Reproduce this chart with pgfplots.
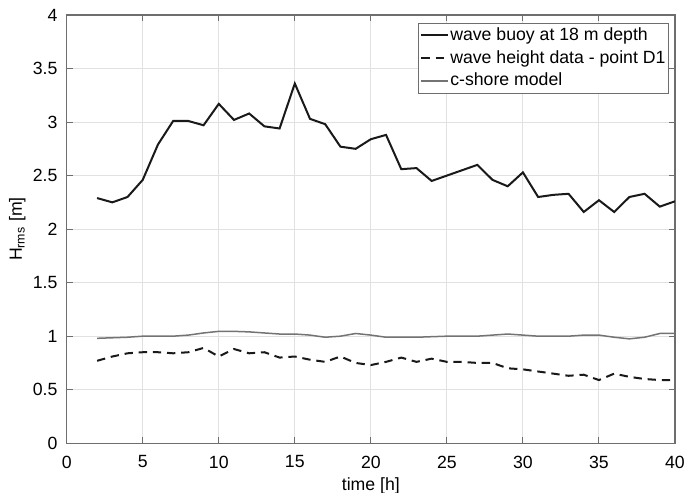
\documentclass[border=0pt]{standalone}
\usepackage{fontspec}
\setmainfont{Liberation Sans}
\usepackage{pgfplots}
\pgfplotsset{compat=1.18}

\definecolor{axgray}{RGB}{110,110,110}
\definecolor{gridgray}{RGB}{225,225,225}
\definecolor{modelgray}{RGB}{115,115,115}
\definecolor{lineblk}{RGB}{25,25,25}

\pgfplotstableread{
t buoy d1 model
2 2.29 0.77 0.98
3 2.25 0.81 0.985
4 2.30 0.84 0.99
5 2.46 0.85 1.00
6 2.79 0.85 1.00
7 3.01 0.84 1.00
8 3.01 0.85 1.01
9 2.97 0.89 1.03
10 3.17 0.81 1.045
11 3.02 0.88 1.045
12 3.08 0.84 1.04
13 2.96 0.85 1.03
14 2.94 0.80 1.02
15 3.36 0.81 1.02
16 3.03 0.78 1.01
17 2.98 0.76 0.99
18 2.77 0.81 1.00
19 2.75 0.75 1.025
20 2.84 0.73 1.01
21 2.88 0.76 0.99
22 2.56 0.80 0.99
23 2.57 0.76 0.99
24 2.45 0.79 0.995
25 2.50 0.76 1.00
26 2.55 0.76 1.00
27 2.60 0.75 1.00
28 2.46 0.75 1.01
29 2.40 0.70 1.02
30 2.53 0.69 1.01
31 2.30 0.67 1.00
32 2.32 0.65 1.00
33 2.33 0.63 1.00
34 2.16 0.64 1.01
35 2.27 0.59 1.01
36 2.16 0.65 0.99
37 2.30 0.62 0.975
38 2.33 0.60 0.99
39 2.21 0.59 1.025
40 2.26 0.59 1.025
}\hdata

\begin{document}
\begin{tikzpicture}
\begin{axis}[
  scale only axis,
  width=364.8pt,height=256.8pt,
  xmin=0,xmax=40,ymin=0,ymax=4,
  xtick={0,5,...,40},
  ytick={0,0.5,...,4},
  yticklabels={0,0.5,1,1.5,2,2.5,3,3.5,4},
  /pgf/number format/assume math mode=true,
  tick label style={font=\fontsize{10.6}{12.5}\selectfont},
  label style={font=\fontsize{10.6}{12.5}\selectfont},
  xticklabel style={yshift=-4pt},
  yticklabel style={xshift=-2pt},
  xlabel={time [h]},
  ylabel={H\textsubscript{rms} [m]},
  xlabel style={yshift=1.5pt},
  ylabel style={yshift=-2.5pt},
  grid=major,
  major grid style={gridgray,line width=0.6pt},
  axis line style={axgray,line width=0.7pt},
  tick style={axgray,line width=0.6pt},
  tick align=inside,
  major tick length=3.5pt,
  xtick pos=both,ytick pos=both,
  legend style={at={(0.99,0.982)},anchor=north east,
    font=\fontsize{10.6}{12.5}\selectfont,draw=axgray,line width=0.5pt,
    inner sep=1pt,row sep=0.8pt,
    nodes={inner xsep=0.8pt,inner ysep=1.8pt},
    cells={anchor=west}},
  legend cell align=left,
  legend image post style={line width=1.2pt},
  legend image code/.code={\draw[#1] (0cm,0cm) -- (0.56cm,0cm);},
]
\addplot[lineblk,line width=1.2pt] table[x=t,y=buoy] {\hdata};
\addplot[lineblk,line width=1.2pt,dash pattern=on 5pt off 3.5pt] table[x=t,y=d1] {\hdata};
\addplot[modelgray,line width=0.9pt] table[x=t,y=model] {\hdata};
\legend{wave buoy at 18 m depth,wave height data - point D1,c-shore model}
\end{axis}
\pgfresetboundingbox
\path ([shift={(-40pt,-29.4pt)}]current axis.south west) rectangle ([shift={(6.6pt,9pt)}]current axis.north east);
\end{tikzpicture}
\end{document}
